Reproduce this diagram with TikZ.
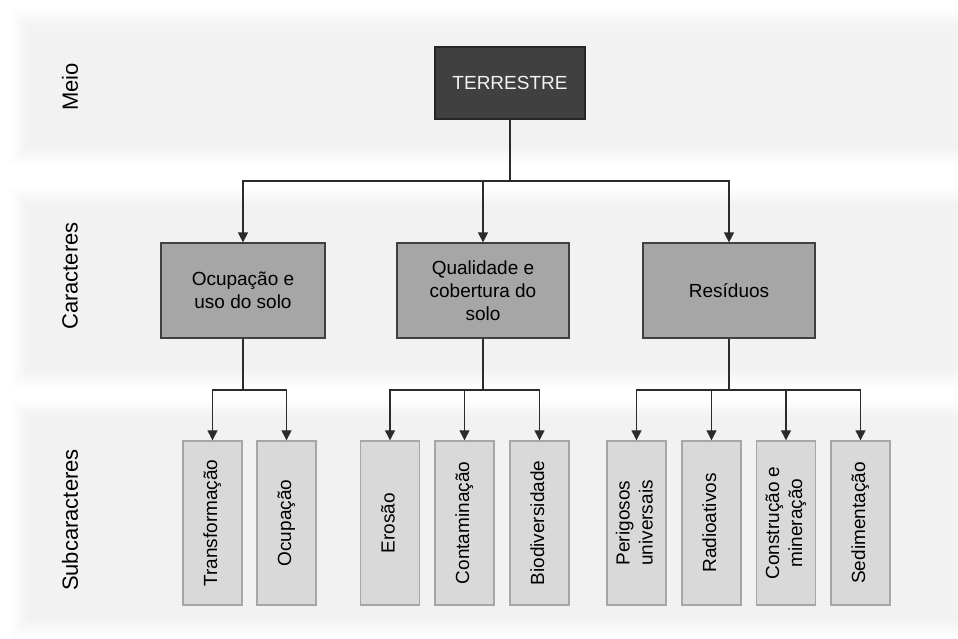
\documentclass[tikz,border=0pt]{standalone}
\usepackage{fontspec}
\setmainfont{Liberation Sans}
\usepackage{graphicx}
\usetikzlibrary{arrows.meta}

\definecolor{band}{HTML}{F2F2F2}
\definecolor{topfill}{HTML}{404040}
\definecolor{topline}{HTML}{262626}
\definecolor{midfill}{HTML}{A6A6A6}
\definecolor{midline}{HTML}{404040}
\definecolor{subfill}{HTML}{D9D9D9}
\definecolor{subline}{HTML}{A6A6A6}
\definecolor{wire}{HTML}{2B2B2B}

\tikzset{
  txt/.style={font=\fontsize{19}{23}\selectfont, text=black, align=center, inner sep=0pt},
  topbox/.style={txt, fill=topfill, draw=topline, line width=1.2pt, text=band,
    minimum width=150pt, minimum height=72pt},
  midbox/.style={txt, fill=midfill, draw=midline, line width=1.2pt, minimum height=95pt},
  subbox/.style={txt, fill=subfill, draw=subline, line width=1.4pt,
    minimum width=59pt, minimum height=164pt},
  rowlabel/.style={font=\fontsize{22}{26}\selectfont, text=black, rotate=90, inner sep=0pt},
  wire/.style={draw=wire, line width=1.2pt},
  feed/.style={wire, -{Triangle[width=10pt,length=10pt]}},
}

% vertical text for the narrow boxes
\newcommand\uptext[1]{\rotatebox{90}{\begin{tabular}{@{}c@{}}#1\end{tabular}}}

\begin{document}
\begin{tikzpicture}[x=1pt,y=-1pt]
\useasboundingbox (0,0) rectangle (958,638);
\begin{scope}
\clip (0,0) rectangle (958,638);
% three horizontal bands with a soft glow around them
\foreach \ua/\ub in {27/147, 205/370, 417/620} {
  \foreach \i in {18,...,1} {
    \pgfmathsetmacro\p{100*(19-\i)/19}
    \fill[band!\p!white] (28-\i,\ua-\i) rectangle (990,\ub+\i);
  }
  \fill[band] (28,\ua) rectangle (990,\ub);
}
\end{scope}

% row labels
\node[rowlabel] (lmeio) at (70,87) {Meio};
\node[rowlabel] (lcar)  at (70,276) {Caracteres};
\node[rowlabel] (lsub)  at (70,520) {Subcaracteres};

% top level
\node[topbox] (terr) at (510,83) {TERRESTRE};

% characters
\node[midbox, minimum width=164pt] (c1) at (243,290.5) {Ocupação e\\uso do solo};
\node[midbox, minimum width=172pt] (c2) at (483,290.5) {Qualidade e\\cobertura do\\solo};
\node[midbox, minimum width=172pt] (c3) at (729,290.5) {Resíduos};

% sub-characters
\node[subbox] (s1) at (212.5,523) {\uptext{Transformação}};
\node[subbox] (s2) at (286.5,523) {\uptext{Ocupação}};
\node[subbox] (s3) at (390,523)   {\uptext{Erosão}};
\node[subbox] (s4) at (464.5,523) {\uptext{Contaminação}};
\node[subbox] (s5) at (539.5,523) {\uptext{Biodiversidade}};
\node[subbox] (s6) at (636.5,523) {\uptext{Perigosos\\universais}};
\node[subbox] (s7) at (711.5,523) {\uptext{Radioativos}};
\node[subbox] (s8) at (786,523)   {\uptext{Construção e\\mineração}};
\node[subbox] (s9) at (860.5,523) {\uptext{Sedimentação}};

% connectors: top level to characters
\foreach \c in {c1,c2,c3}
  \draw[feed] (terr.south) |- (0,181 -| \c.north) -- (\c.north);

% connectors: characters to sub-characters
\foreach \c/\s in {c1/s1, c1/s2, c2/s3, c2/s4, c2/s5, c3/s6, c3/s7, c3/s8, c3/s9}
  \draw[feed] (\c.south) |- (0,390 -| \s.north) -- (\s.north);
\end{tikzpicture}
\end{document}
